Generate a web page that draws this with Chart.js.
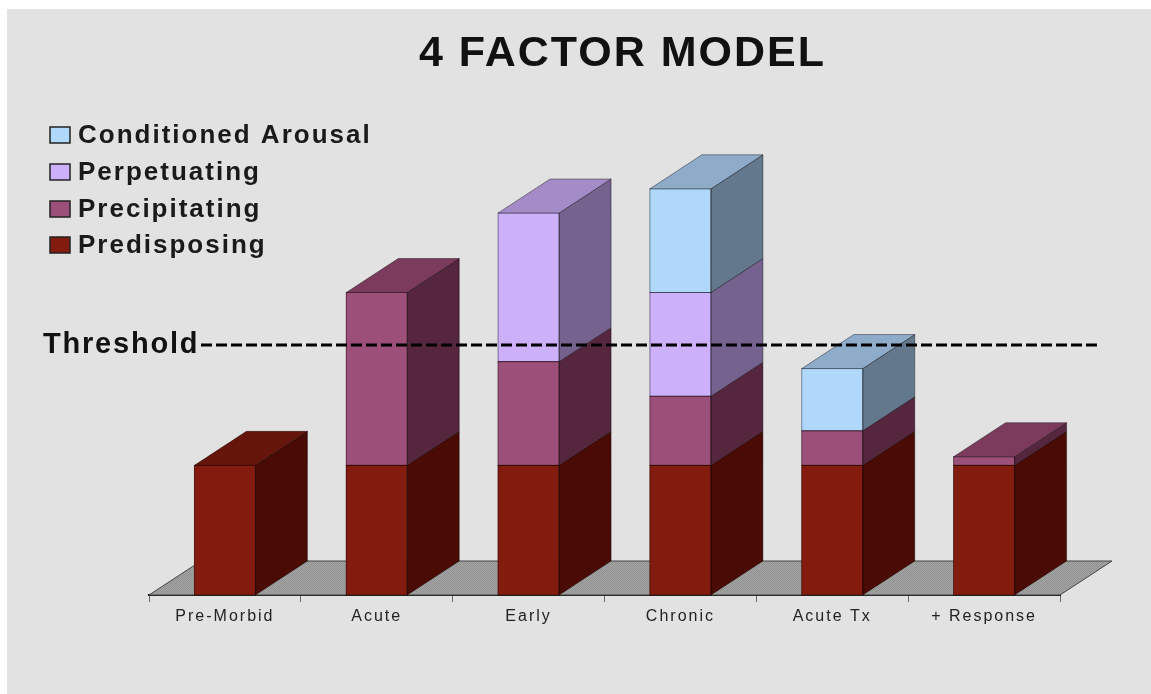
<!DOCTYPE html>
<html>
<head>
<meta charset="utf-8">
<title>4 Factor Model</title>
<script src="https://cdn.jsdelivr.net/npm/chart.js@4/dist/chart.umd.min.js"></script>
<style>
    html, body { margin: 0; padding: 0; background: #fff; overflow: hidden; }
    #panel { position: absolute; left: 7px; top: 9px; width: 1144px; height: 685px; background: #e2e2e2; }
    #factorChart { position: absolute; left: 0; top: 0; }
</style>
</head>
<body>
<div id="panel"></div>
<canvas id="factorChart" width="1151" height="694"></canvas>
<script>
const categories = ['Pre-Morbid', 'Acute', 'Early', 'Chronic', 'Acute Tx', '+ Response'];

const predisposing = [3.75, 3.75, 3.75, 3.75, 3.75, 3.75];
const precipitating = [0, 5, 3, 2, 1, 0.25];
const perpetuating = [0, 0, 4.3, 3, 0, 0];
const conditionedArousal = [0, 0, 0, 3, 1.8, 0];

const thresholdValue = 7.23;
const yMax = 14;

const frontColors = ['#841b0f', '#9c4f78', '#ccb0f9', '#b0d8fb'];
const topColors = ['#66150a', '#7c3b5c', '#a48cc8', '#8eacca'];
const sideColors = ['#4a0b05', '#56263e', '#76628f', '#63788c'];

const DEPTH_X = 52;
const DEPTH_Y = -34;
const FONT = '"Liberation Sans", Arial, sans-serif';

function face(ctx, points, fill) {
    ctx.beginPath();
    points.forEach((p, i) => i ? ctx.lineTo(p[0], p[1]) : ctx.moveTo(p[0], p[1]));
    ctx.closePath();
    ctx.fillStyle = fill;
    ctx.fill();
    ctx.stroke();
}

// small two-tone tile for the grey floor
function floorPattern(ctx) {
    const tile = document.createElement('canvas');
    tile.width = tile.height = 2;
    const t = tile.getContext('2d');
    t.fillStyle = '#a4a4a4';
    t.fillRect(0, 0, 2, 2);
    t.fillStyle = '#929292';
    t.fillRect(0, 0, 1, 1);
    t.fillRect(1, 1, 1, 1);
    return ctx.createPattern(tile, 'repeat');
}

const floorPlugin = {
    id: 'floor',
    beforeDraw(chart) {
        chart.ctx.letterSpacing = '2px';
    },
    beforeDatasetsDraw(chart) {
        const { ctx, chartArea: a } = chart;
        ctx.save();
        ctx.strokeStyle = '#444';
        ctx.lineWidth = 1;
        face(ctx, [
            [a.left, a.bottom],
            [a.left + DEPTH_X, a.bottom + DEPTH_Y],
            [a.right + DEPTH_X, a.bottom + DEPTH_Y],
            [a.right, a.bottom]
        ], floorPattern(ctx));
        ctx.restore();
    }
};

// side and top faces, built on the bar elements Chart.js laid out
const blockPlugin = {
    id: 'blocks',
    afterDatasetsDraw(chart) {
        const ctx = chart.ctx;
        ctx.save();
        ctx.lineWidth = 1;
        ctx.strokeStyle = 'rgba(0,0,0,0.4)';
        categories.forEach((c, col) => {
            let topBar = null;
            let topIndex = 0;
            chart.data.datasets.forEach((ds, i) => {
                if (!ds.data[col]) return;
                const bar = chart.getDatasetMeta(i).data[col];
                const l = bar.x - bar.width / 2;
                const r = bar.x + bar.width / 2;
                face(ctx, [
                    [r, bar.y], [r + DEPTH_X, bar.y + DEPTH_Y],
                    [r + DEPTH_X, bar.base + DEPTH_Y], [r, bar.base]
                ], sideColors[i]);
                ctx.strokeRect(l, bar.y, bar.width, bar.base - bar.y);
                topBar = bar;
                topIndex = i;
            });
            const l = topBar.x - topBar.width / 2;
            const r = topBar.x + topBar.width / 2;
            const y = topBar.y;
            face(ctx, [
                [l, y], [l + DEPTH_X, y + DEPTH_Y],
                [r + DEPTH_X, y + DEPTH_Y], [r, y]
            ], topColors[topIndex]);
        });
        ctx.restore();
    }
};

// title, legend and threshold line on top of everything else
const overlayPlugin = {
    id: 'overlay',
    afterDraw(chart) {
        const { ctx, scales } = chart;
        ctx.save();
        ctx.textBaseline = 'middle';
        ctx.textAlign = 'left';

        ctx.letterSpacing = '2px';
        ctx.fillStyle = '#111';
        ctx.font = 'bold 43px ' + FONT;
        ctx.fillText('4 FACTOR MODEL', 419, 54);

        ctx.letterSpacing = '2px';
        ctx.font = 'bold 26px ' + FONT;
        const legendY = [136, 173, 210, 246];
        chart.data.datasets.slice().reverse().forEach((ds, i) => {
            ctx.fillStyle = ds.backgroundColor;
            ctx.strokeStyle = '#222';
            ctx.lineWidth = 1.5;
            ctx.fillRect(50, legendY[i] - 9, 20, 16);
            ctx.strokeRect(50, legendY[i] - 9, 20, 16);
            ctx.fillStyle = '#1a1a1a';
            ctx.fillText(ds.label, 78, legendY[i]);
        });

        const y = scales.y.getPixelForValue(thresholdValue);
        ctx.letterSpacing = '1.8px';
        ctx.font = 'bold 29px ' + FONT;
        ctx.fillStyle = '#111';
        ctx.fillText('Threshold', 43, y);

        ctx.letterSpacing = '0px';
        ctx.strokeStyle = '#000';
        ctx.lineWidth = 3;
        ctx.setLineDash([11, 4]);
        ctx.beginPath();
        ctx.moveTo(201, y);
        ctx.lineTo(1097, y);
        ctx.stroke();
        ctx.restore();
    }
};

new Chart(document.getElementById('factorChart').getContext('2d'), {
    type: 'bar',
    data: {
        labels: categories,
        datasets: [
            { label: 'Predisposing', data: predisposing, backgroundColor: frontColors[0] },
            { label: 'Precipitating', data: precipitating, backgroundColor: frontColors[1] },
            { label: 'Perpetuating', data: perpetuating, backgroundColor: frontColors[2] },
            { label: 'Conditioned Arousal', data: conditionedArousal, backgroundColor: frontColors[3] }
        ]
    },
    options: {
        responsive: false,
        animation: false,
        barThickness: 61,
        borderWidth: 0,
        layout: { padding: { left: 149, right: 91, top: 111, bottom: 0 } },
        plugins: {
            legend: { display: false },
            title: { display: false },
            tooltip: { enabled: false }
        },
        scales: {
            x: {
                stacked: true,
                afterFit: (scale) => { scale.height = 99; },
                border: { color: '#111', width: 2 },
                grid: { drawOnChartArea: false, color: '#666', tickLength: 7 },
                ticks: {
                    color: '#222',
                    padding: 5,
                    maxRotation: 0,
                    font: { family: FONT, size: 16 }
                }
            },
            y: { stacked: true, display: false, min: 0, max: yMax }
        }
    },
    plugins: [floorPlugin, blockPlugin, overlayPlugin]
});
</script>
</body>
</html>
